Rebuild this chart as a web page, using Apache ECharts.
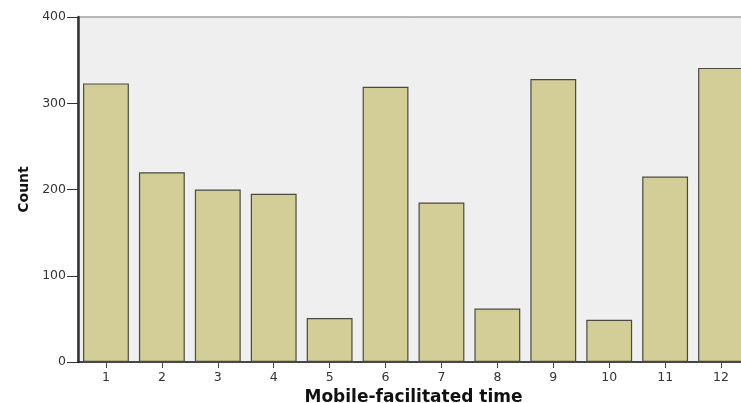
<!DOCTYPE html>
<html>
<head>
<meta charset="utf-8">
<script src="https://cdn.jsdelivr.net/npm/echarts@6/dist/echarts.min.js"></script>
<style>
html,body{margin:0;padding:0;background:#fff;overflow:hidden;}
#c{width:760px;height:403px;}
</style>
</head>
<body>
<div id="c"></div>
<script>
var categories = ['1','2','3','4','5','6','7','8','9','10','11','12'];
var counts = [323, 220, 200, 195, 51, 319, 185, 62, 328, 49, 215, 341];
var yTicks = [0, 100, 200, 300, 400];

var chart = echarts.init(document.getElementById('c'), null, {renderer:'canvas'});
chart.setOption({
  animation: false,
  grid: {left: 78, right: 11, top: 17, bottom: 41, containLabel: false, outerBoundsMode: 'none',
         show: true, backgroundColor: '#efefef', borderColor: '#777', borderWidth: 1},
  xAxis: {
    type: 'category', data: categories,
    name: 'Mobile-facilitated time', nameLocation: 'middle', nameGap: 22,
    nameTextStyle: {fontFamily: 'DejaVu Sans', fontWeight: 'bold', fontSize: 17, color: '#111'},
    axisLine: {show: true, lineStyle: {color: '#222', width: 1.5}},
    axisTick: {show: true, alignWithLabel: true, length: 6, lineStyle: {color: '#444'}},
    axisLabel: {fontFamily: 'DejaVu Sans', fontSize: 12.5, color: '#333', margin: 9},
    splitLine: {show: false}
  },
  yAxis: {
    type: 'value', min: yTicks[0], max: yTicks[yTicks.length-1], interval: 100,
    name: 'Count', nameLocation: 'middle', nameGap: 46, nameRotate: 90,
    nameTextStyle: {fontFamily: 'DejaVu Sans', fontWeight: 'bold', fontSize: 14, color: '#111'},
    axisLine: {show: true, lineStyle: {color: '#333', width: 2.5}},
    axisTick: {show: true, length: 11, lineStyle: {color: '#333'}},
    axisLabel: {fontFamily: 'DejaVu Sans', fontSize: 12.5, color: '#333', margin: 12},
    splitLine: {show: false}
  },
  series: [{
    type: 'bar', data: counts, barCategoryGap: '18%',
    itemStyle: {color: '#d3ce97', borderColor: '#4a4a42', borderWidth: 1.2}
  }]
});
</script>
</body>
</html>
